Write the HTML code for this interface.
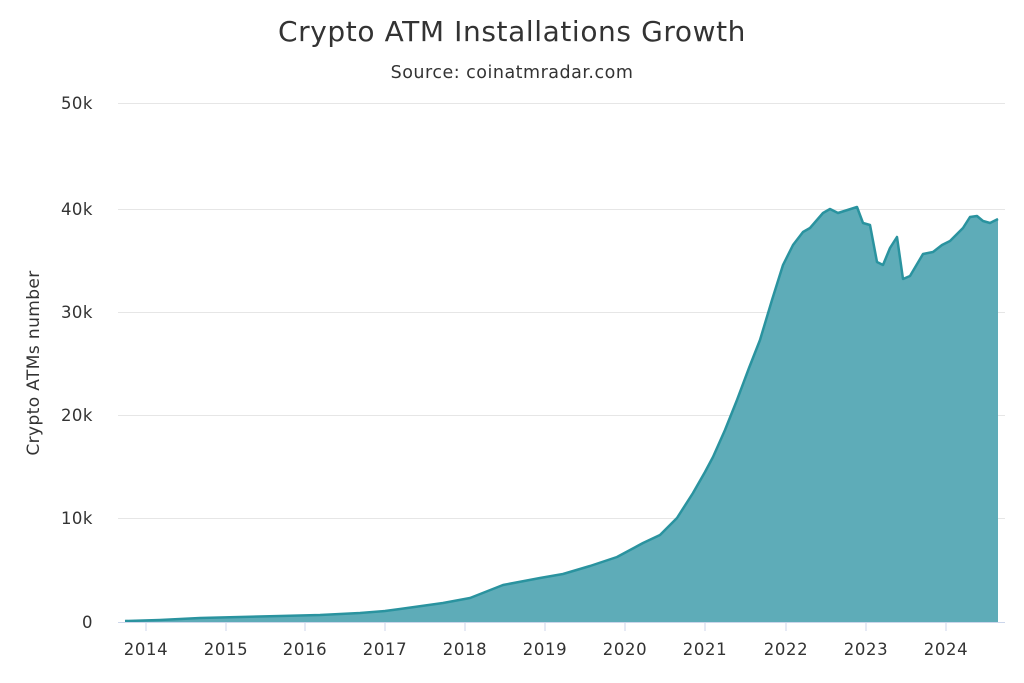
<!DOCTYPE html>
<html><head><meta charset="utf-8"><style>
body{margin:0;background:#fff;}
svg{display:block;font-family:"DejaVu Sans","Liberation Sans",sans-serif;}
</style></head><body>
<svg width="1024" height="683" viewBox="0 0 1024 683">
<text x="512" y="41" text-anchor="middle" font-size="28" letter-spacing="0.6" fill="#333">Crypto ATM Installations Growth</text>
<text x="512" y="78" text-anchor="middle" font-size="17.5" letter-spacing="0.5" fill="#333">Source: coinatmradar.com</text>
<g stroke="#e6e6e6" stroke-width="1">
<line x1="118" y1="103.5" x2="1005" y2="103.5"/>
<line x1="118" y1="209.5" x2="1005" y2="209.5"/>
<line x1="118" y1="312.5" x2="1005" y2="312.5"/>
<line x1="118" y1="415.5" x2="1005" y2="415.5"/>
<line x1="118" y1="518.5" x2="1005" y2="518.5"/>
</g>
<g font-size="16.5" letter-spacing="0.5" fill="#333" text-anchor="end">
<text x="93" y="109">50k</text>
<text x="93" y="215">40k</text>
<text x="93" y="318">30k</text>
<text x="93" y="421">20k</text>
<text x="93" y="524">10k</text>
<text x="93" y="628">0</text>
</g>
<text transform="translate(39,363) rotate(-90)" text-anchor="middle" font-size="17" letter-spacing="0.4" fill="#333">Crypto ATMs number</text>
<path id="c" d="M125,621 L160,620 L200,618 L240,617 L280,616 L320,615 L360,613 L385,611 L400,609 L443,603 L470,598 L503,585 L540,578 L563,574 L590,566 L617,557 L643,543 L660,535 L677,518 L693,493 L705,472 L713,457 L725,430 L737,400 L749,368 L760,340 L772,300 L783,265 L793,245 L803,232 L810,228 L823,213 L830,209 L838,213 L857,207 L863,223 L870,225 L877,262 L883,265 L890,248 L897,237 L903,279 L910,276 L923,254 L933,252 L942,245 L950,241 L963,228 L970,217 L977,216 L983,221 L990,223 L998,219 L998,622 L125,622 Z" fill="#5eacb8"/>
<path d="M125,621 L160,620 L200,618 L240,617 L280,616 L320,615 L360,613 L385,611 L400,609 L443,603 L470,598 L503,585 L540,578 L563,574 L590,566 L617,557 L643,543 L660,535 L677,518 L693,493 L705,472 L713,457 L725,430 L737,400 L749,368 L760,340 L772,300 L783,265 L793,245 L803,232 L810,228 L823,213 L830,209 L838,213 L857,207 L863,223 L870,225 L877,262 L883,265 L890,248 L897,237 L903,279 L910,276 L923,254 L933,252 L942,245 L950,241 L963,228 L970,217 L977,216 L983,221 L990,223 L998,219" fill="none" stroke="#2a939f" stroke-width="2.5" stroke-linejoin="round"/>
<line x1="118" y1="622.5" x2="1005" y2="622.5" stroke="#ccd6eb" stroke-width="1"/>
<g stroke="#ccd6eb" stroke-width="1">
<line x1="146" y1="622" x2="146" y2="631"/><line x1="226" y1="622" x2="226" y2="631"/>
<line x1="305" y1="622" x2="305" y2="631"/><line x1="385" y1="622" x2="385" y2="631"/>
<line x1="465" y1="622" x2="465" y2="631"/><line x1="545" y1="622" x2="545" y2="631"/>
<line x1="625" y1="622" x2="625" y2="631"/><line x1="705" y1="622" x2="705" y2="631"/>
<line x1="786" y1="622" x2="786" y2="631"/><line x1="866" y1="622" x2="866" y2="631"/>
<line x1="946" y1="622" x2="946" y2="631"/>
</g>
<g font-size="16.5" letter-spacing="0.6" fill="#333" text-anchor="middle">
<text x="146" y="655">2014</text><text x="226" y="655">2015</text><text x="305" y="655">2016</text>
<text x="385" y="655">2017</text><text x="465" y="655">2018</text><text x="545" y="655">2019</text>
<text x="625" y="655">2020</text><text x="705" y="655">2021</text><text x="786" y="655">2022</text>
<text x="866" y="655">2023</text><text x="946" y="655">2024</text>
</g>
</svg>
</body></html>
